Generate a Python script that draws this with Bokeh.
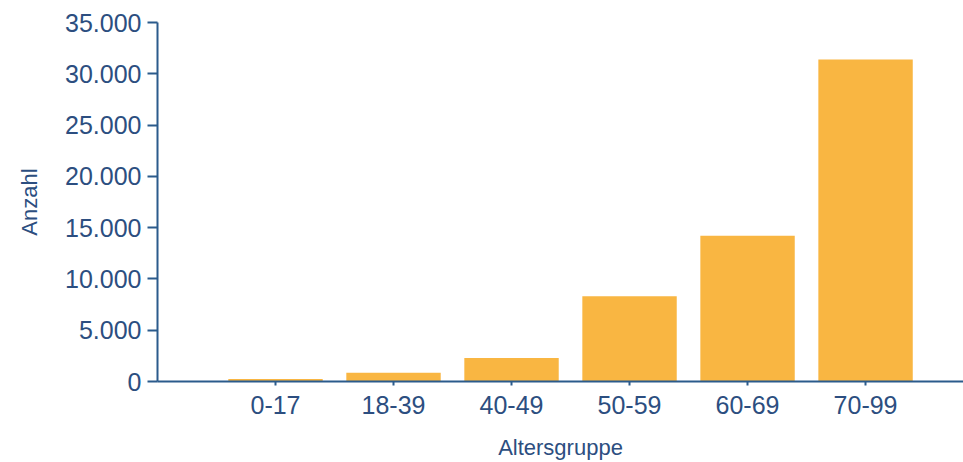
from bokeh.plotting import figure
from bokeh.models import Range1d, FixedTicker, CustomJSTickFormatter, ColumnDataSource
from bokeh.embed import file_html
from bokeh.resources import INLINE

categories = ["0-17", "18-39", "40-49", "50-59", "60-69", "70-99"]
counts = [250, 850, 2300, 8300, 14200, 31400]
y_ticks = [0, 5000, 10000, 15000, 20000, 25000, 30000, 35000]

bar_color = "#F9B642"
axis_color = "#2B5B8C"
text_color = "#2C4E80"
font = "Liberation Sans"

xs = list(range(len(categories)))
source = ColumnDataSource(data=dict(x=xs, top=counts, cat=categories))

p = figure(width=963, height=462, output_backend="svg", toolbar_location=None,
           x_range=Range1d(-1, 5.83), y_range=Range1d(0, 35000),
           min_border_left=157, min_border_right=0, min_border_top=22, min_border_bottom=81)
p.outline_line_color = None
p.grid.visible = False
p.background_fill_color = "white"
p.border_fill_color = "white"

p.vbar(x="x", top="top", bottom=0, width=0.8, source=source,
       fill_color=bar_color, line_color=None)

# axes
p.xaxis.ticker = FixedTicker(ticks=xs)
p.xaxis.major_label_overrides = {i: c for i, c in enumerate(categories)}
p.yaxis.ticker = FixedTicker(ticks=y_ticks)
p.yaxis.formatter = CustomJSTickFormatter(
    code="return tick.toFixed(0).replace(/\\B(?=(\\d{3})+(?!\\d))/g, '.');")

for ax in (p.xaxis[0], p.yaxis[0]):
    ax.axis_line_color = axis_color
    ax.axis_line_width = 2
    ax.major_tick_line_color = axis_color
    ax.major_tick_line_width = 2
    ax.minor_tick_line_color = None
    ax.major_tick_in = 0
    ax.major_label_text_color = text_color
    ax.major_label_text_font = font
    ax.major_label_text_font_size = "25px"
    ax.axis_label_text_color = text_color
    ax.axis_label_text_font = font
    ax.axis_label_text_font_size = "22px"
    ax.axis_label_text_font_style = "normal"

p.yaxis.major_tick_out = 10
p.yaxis.major_label_standoff = 6
p.xaxis.major_tick_out = 4
p.xaxis.major_label_standoff = 10
p.xaxis.axis_label = "Altersgruppe"
p.yaxis.axis_label = "Anzahl"
p.xaxis.axis_label_standoff = 18
p.yaxis.axis_label_standoff = 20

open("out.html", "w").write(file_html(p, INLINE))
